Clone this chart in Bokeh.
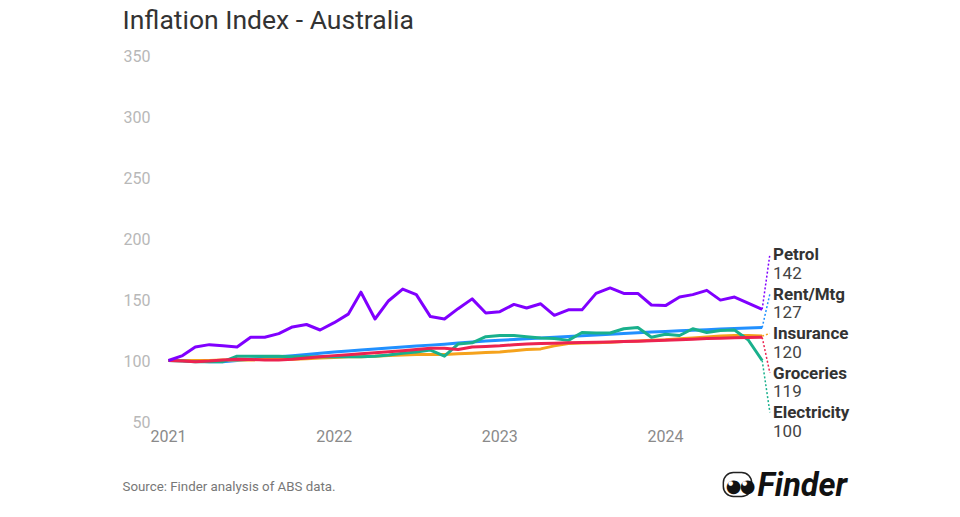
import pandas as pd
from bokeh.plotting import figure
from bokeh.models import Range1d, FixedTicker, DatetimeTickFormatter, Label
from bokeh.embed import file_html
from bokeh.resources import INLINE

# ---- data (monthly index, Jan 2021 = 100) ----
months = pd.date_range("2021-01-01", periods=44, freq="MS")

petrol = [100, 104, 111, 113, 112, 111, 119, 119, 122, 127.5, 129.5, 125,
          131, 138, 156, 134, 149, 158.5, 154, 136, 134, 142.5, 150.5, 139,
          140, 146, 143, 146.5, 137, 141.5, 141.5, 155, 159.5, 155, 155, 145.5,
          145, 152, 154, 157.5, 149.5, 152, 147, 142]
rent_mtg = [100, 100, 99.5, 99, 99, 100, 101, 102, 103, 104, 105, 106,
            107, 107.8, 108.6, 109.4, 110.2, 111, 111.8, 112.6, 113.4, 114.4, 115.2, 116,
            116.6, 117.2, 117.8, 118.4, 119, 119.6, 120.2, 120.8, 121.6, 122.2, 122.8, 123.3,
            123.8, 124.3, 124.8, 125.3, 125.8, 126.3, 126.7, 127]
insurance = [100, 100, 100, 100, 100.5, 100.5, 100.5, 101, 101, 101, 101.5, 102,
             102.5, 103, 103, 103.5, 104, 104.5, 105, 105, 105, 105.5, 106, 106.5,
             107, 108, 109, 109.5, 112, 114, 114.3, 114.6, 115, 115.5, 116, 116.5,
             117, 117.8, 118.5, 119.2, 120, 120.5, 120.5, 120]
groceries = [100, 99.5, 99, 99.5, 100.5, 101, 100.8, 100.5, 100.5, 101, 102, 103,
             104, 104.8, 105.6, 106.4, 107.2, 108, 109, 110, 110, 109, 111, 111.5,
             112, 113, 113.5, 114, 114.2, 114.5, 114.7, 115, 115.2, 115.5, 115.8, 116.2,
             116.6, 117, 117.5, 118, 118.3, 118.6, 118.8, 119]
electricity = [100, 99.5, 99, 99, 99, 103.5, 103.5, 103.5, 103.5, 103, 103, 103,
               103, 103, 103, 103.5, 104.5, 106, 107, 108.5, 103.5, 113.5, 114.5, 119.5,
               120.5, 120.5, 119.5, 118.5, 118, 116.5, 123, 122.5, 122.5, 126, 127, 119,
               121.5, 120.5, 126, 123, 124.5, 125, 117, 100]

series_names = ["Petrol", "Rent/Mtg", "Insurance", "Groceries", "Electricity"]
series_values = [petrol, rent_mtg, insurance, groceries, electricity]
series_colors = ["#8000ff", "#2190ff", "#f5a21c", "#ec2350", "#19b08c"]
end_values = ["142", "127", "120", "119", "100"]
draw_order = [1, 2, 4, 3, 0]

year_ticks = ["2021-01-01", "2022-01-01", "2023-01-01", "2024-01-01"]
y_ticks = [50, 100, 150, 200, 250, 300, 350]

FONT = "Roboto"

# ---- layout: the frame fills the canvas; axes are pinned at fixed locations ----
W, H = 958, 515
X0_PX = 168.0                       # pixel of Jan 2021
PX_PER_DAY = 497.0 / 1095.0         # 2021 -> 2024 spacing
Y_TOP_PX, Y_TOP_VAL = 55.0, 350.0   # pixel of the 350 tick
PX_PER_UNIT = 366.0 / 300.0

t0 = pd.Timestamp(year_ticks[0])
x_start = t0 - pd.Timedelta(days=X0_PX / PX_PER_DAY)
x_end = x_start + pd.Timedelta(days=W / PX_PER_DAY)
y_end = Y_TOP_VAL + Y_TOP_PX / PX_PER_UNIT
y_start = y_end - H / PX_PER_UNIT

p = figure(width=W, height=H, output_backend="svg", toolbar_location=None,
           x_axis_type="datetime",
           x_range=Range1d(x_start, x_end), y_range=Range1d(y_start, y_end),
           min_border=0)
p.outline_line_color = None
p.grid.visible = False
p.background_fill_color = "white"
p.border_fill_color = "white"

for ax in (p.xaxis[0], p.yaxis[0]):
    ax.axis_line_color = None
    ax.major_tick_line_color = None
    ax.minor_tick_line_color = None
    ax.major_tick_out = 0
    ax.major_tick_in = 0
    ax.minor_tick_out = 0
    ax.major_label_text_font = FONT
    ax.major_label_text_font_size = "16px"

p.xaxis.ticker = FixedTicker(ticks=[pd.Timestamp(t).timestamp() * 1000 for t in year_ticks])
p.xaxis.formatter = DatetimeTickFormatter(years="%Y", months="%Y", days="%Y")
p.xaxis.major_label_text_color = "#8a8a8a"
p.xaxis.major_label_standoff = 8
p.xaxis.fixed_location = y_ticks[0]

p.yaxis.ticker = FixedTicker(ticks=y_ticks)
p.yaxis.major_label_text_color = "#b8b8b8"
p.yaxis.major_label_standoff = 18
p.yaxis.fixed_location = t0.timestamp() * 1000

for i in draw_order:
    p.line(months, series_values[i], line_color=series_colors[i], line_width=3,
           line_join="round")

# ---- end labels with dotted connectors ----
last = months[-1]
label_x = last + pd.Timedelta(days=24)
conn_x = last + pd.Timedelta(days=17)
top_center = 187.0
step = 32.4
num_off = 15.2
for k in range(len(series_names)):
    yc = top_center - k * step
    p.line([last, conn_x], [series_values[k][-1], yc], line_color=series_colors[k],
           line_width=1.5, line_dash="2 2")
    p.add_layout(Label(x=label_x, y=yc, text=series_names[k], text_font=FONT,
                       text_font_size="17px", text_font_style="bold",
                       text_color="#333333", text_baseline="middle", text_align="left"))
    p.add_layout(Label(x=label_x, y=yc - num_off, text=end_values[k], text_font=FONT,
                       text_font_size="17px", text_color="#444444",
                       text_baseline="middle", text_align="left"))

# ---- title, source, logo (screen units, from bottom-left of the canvas) ----
p.add_layout(Label(x=122, y=H - 19, x_units="screen", y_units="screen",
                   text="Inflation Index - Australia", text_font=FONT,
                   text_font_size="26.5px", text_color="#333333",
                   text_baseline="middle", text_align="left"))
p.add_layout(Label(x=122, y=H - 486, x_units="screen", y_units="screen",
                   text="Source: Finder analysis of ABS data.", text_font=FONT,
                   text_font_size="13.3px", text_color="#777777",
                   text_baseline="middle", text_align="left"))
p.add_layout(Label(x=757, y=H - 484, x_units="screen", y_units="screen",
                   text="Finder", text_font=FONT, text_font_size="32.5px",
                   text_font_style="bold italic", text_color="#111111",
                   text_baseline="middle", text_align="left"))
try:
    p.add_layout(Label(x=737, y=H - 484, x_units="screen", y_units="screen",
                       text="      ", text_font=FONT, text_font_size="15px",
                       text_color="#111111", text_baseline="middle", text_align="center",
                       border_line_color="#222222", border_line_width=1.5,
                       background_fill_color="#ffffff",
                       border_radius=10, padding=3))
except Exception:
    pass
for ex in (733, 747):
    p.add_layout(Label(x=ex, y=H - 485, x_units="screen", y_units="screen",
                       text="\u25cf", text_font="DejaVu Sans", text_font_size="18px",
                       text_color="#111111", text_baseline="middle", text_align="center"))
    p.add_layout(Label(x=ex - 3, y=H - 482, x_units="screen", y_units="screen",
                       text="\u25cf", text_font="DejaVu Sans", text_font_size="6px",
                       text_color="#ffffff", text_baseline="middle", text_align="center"))

open("out.html", "w").write(file_html(p, INLINE))
